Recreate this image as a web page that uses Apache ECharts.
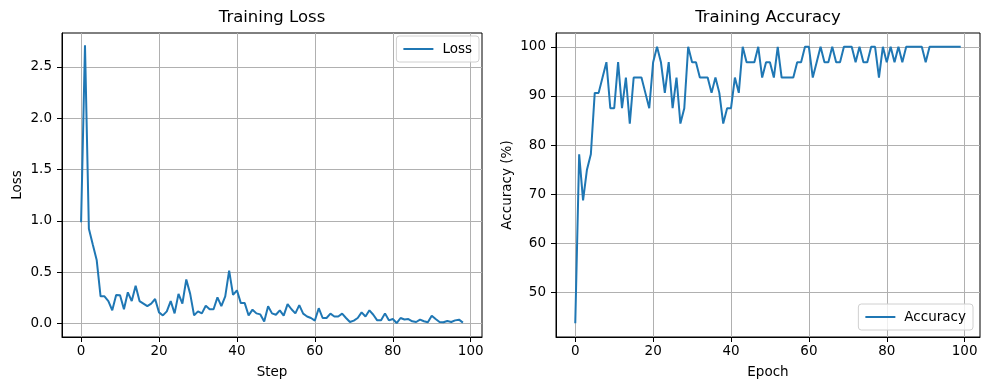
<!DOCTYPE html>
<html>
<head>
<meta charset="utf-8">
<script src="https://cdn.jsdelivr.net/npm/echarts@6/dist/echarts.min.js"></script>
<style>
html,body{margin:0;padding:0;background:#fff;}
#chart{width:989px;height:390px;}
</style>
</head>
<body>
<div id="chart"></div>
<script>
// ---- data ----
var lossValues = [0.987,2.71,0.925,0.77,0.62,0.266,0.266,0.22,0.13,0.28,
  0.276,0.14,0.305,0.22,0.37,0.22,0.195,0.17,0.195,0.24,
  0.11,0.08,0.12,0.22,0.10,0.29,0.195,0.43,0.29,0.08,
  0.12,0.10,0.175,0.14,0.14,0.256,0.17,0.266,0.516,0.28,
  0.325,0.20,0.20,0.08,0.136,0.10,0.09,0.02,0.17,0.10,
  0.087,0.13,0.078,0.19,0.14,0.10,0.18,0.097,0.07,0.055,
  0.03,0.15,0.055,0.055,0.097,0.07,0.07,0.097,0.055,0.016,
  0.03,0.055,0.11,0.07,0.13,0.087,0.032,0.032,0.10,0.032,
  0.045,0.006,0.055,0.04,0.045,0.023,0.016,0.04,0.023,0.013,
  0.078,0.045,0.016,0.013,0.026,0.016,0.032,0.039,0.01];
var accValues = [43.75,78.125,68.75,75,78.125,90.625,90.625,93.75,96.875,87.5,
  87.5,96.875,87.5,93.75,84.375,93.75,93.75,93.75,90.625,87.5,
  96.875,100,96.875,90.625,96.875,87.5,93.75,84.375,87.5,100,
  96.875,96.875,93.75,93.75,93.75,90.625,93.75,90.625,84.375,87.5,
  87.5,93.75,90.625,100,96.875,96.875,96.875,100,93.75,96.875,
  96.875,93.75,100,93.75,93.75,93.75,93.75,96.875,96.875,100,
  100,93.75,96.875,100,96.875,96.875,100,96.875,96.875,100,
  100,100,96.875,100,96.875,96.875,100,100,93.75,100,
  96.875,100,96.875,100,96.875,100,100,100,100,100,
  96.875,100,100,100,100,100,100,100,100,100];
var xTicks = [0,20,40,60,80,100];
var lossTicks = [0,0.5,1.0,1.5,2.0,2.5];
var accTicks = [50,60,70,80,90,100];

var lossData = lossValues.map(function(v,i){return [i,v];});
var accData = accValues.map(function(v,i){return [i,v];});

var FONT = 'DejaVu Sans';
var BLUE = '#1f77b4';
var GRIDC = '#b0b0b0';

function xAxisCfg(gi, min, max, name){
  return {
    type:'value', gridIndex:gi, min:min, max:max,
    name:name, nameLocation:'middle', nameGap:28,
    nameTextStyle:{fontFamily:FONT,fontSize:13.5,color:'#000'},
    axisLine:{show:true,onZero:false,lineStyle:{color:'#000',width:1}},
    axisTick:{show:true,inside:false,length:5,customValues:xTicks,lineStyle:{color:'#000',width:1}},
    axisLabel:{show:true,customValues:xTicks,margin:7,fontFamily:FONT,fontSize:13.5,color:'#000'},
    splitLine:{show:true,lineStyle:{color:GRIDC,width:1}}
  };
}
function yAxisCfg(gi, min, max, ticks, name, gap, fmt){
  return {
    type:'value', gridIndex:gi, min:min, max:max,
    name:name, nameLocation:'middle', nameGap:gap, nameRotate:90,
    nameTextStyle:{fontFamily:FONT,fontSize:13.5,color:'#000'},
    axisLine:{show:true,onZero:false,lineStyle:{color:'#000',width:1}},
    axisTick:{show:true,inside:false,length:5,customValues:ticks,lineStyle:{color:'#000',width:1}},
    axisLabel:{show:true,customValues:ticks,margin:10,fontFamily:FONT,fontSize:13.5,color:'#000',formatter:fmt},
    splitLine:{show:true,lineStyle:{color:GRIDC,width:1}}
  };
}
function legendCfg(name, pos){
  var l = {data:[name], orient:'vertical', icon:'rect',
     backgroundColor:'rgba(255,255,255,0.8)', borderColor:'#d0d0d0', borderWidth:1, borderRadius:3,
     padding:[6,7,6,7], itemWidth:30, itemHeight:2, itemGap:6,
     textStyle:{fontFamily:FONT,fontSize:13.5,color:'#000',padding:[0,0,0,4]}};
  for (var k in pos) l[k] = pos[k];
  return l;
}

var chart = echarts.init(document.getElementById('chart'), null, {renderer:'canvas'});
chart.setOption({
  animation:false,
  backgroundColor:'#fff',
  title:[
    {text:'Training Loss', left:272, top:9, textAlign:'center', padding:0,
     textStyle:{fontFamily:FONT,fontSize:16.5,fontWeight:'normal',color:'#000'}},
    {text:'Training Accuracy', left:768, top:9, textAlign:'center', padding:0,
     textStyle:{fontFamily:FONT,fontSize:16.5,fontWeight:'normal',color:'#000'}}
  ],
  legend:[
    legendCfg('Loss', {right:510, top:36}),
    legendCfg('Accuracy', {right:16, bottom:60})
  ],
  grid:[
    {left:62, top:33, width:420, height:304, show:true, borderColor:'#000', borderWidth:1, backgroundColor:'transparent', containLabel:false},
    {left:556, top:33, width:424, height:304, show:true, borderColor:'#000', borderWidth:1, backgroundColor:'transparent', containLabel:false}
  ],
  xAxis:[
    xAxisCfg(0, -4.9, 102.9, 'Step'),
    xAxisCfg(1, -4.95, 103.95, 'Epoch')
  ],
  yAxis:[
    yAxisCfg(0, -0.13, 2.83, lossTicks, 'Loss', 38, function(v){return v.toFixed(1);}),
    yAxisCfg(1, 40.9375, 102.8125, accTicks, 'Accuracy (%)', 42, function(v){return String(v);})
  ],
  series:[
    {name:'Loss', type:'line', xAxisIndex:0, yAxisIndex:0, data:lossData,
     symbol:'none', showSymbol:false, smooth:false, clip:true,
     lineStyle:{color:BLUE,width:2}, itemStyle:{color:BLUE}},
    {name:'Accuracy', type:'line', xAxisIndex:1, yAxisIndex:1, data:accData,
     symbol:'none', showSymbol:false, smooth:false, clip:true,
     lineStyle:{color:BLUE,width:2}, itemStyle:{color:BLUE}}
  ]
});
</script>
</body>
</html>
